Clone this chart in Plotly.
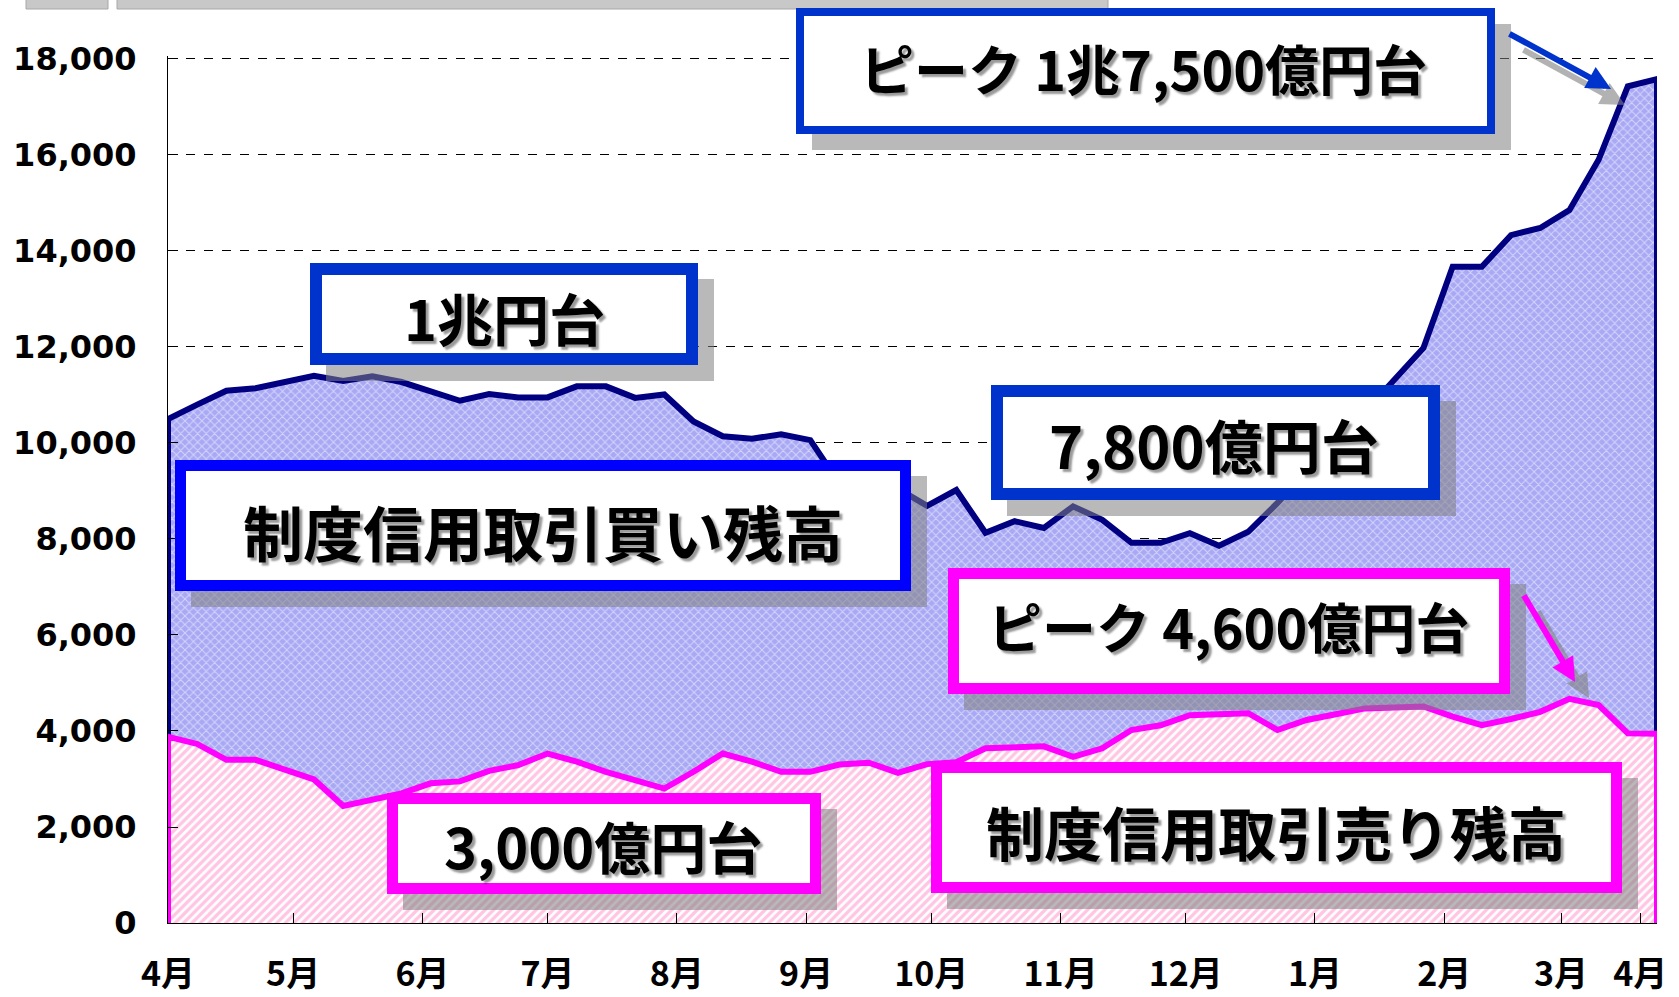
import pandas as pd
import plotly.graph_objects as go

# weekly balances, 100 million yen
buy = [10500, 10800, 11090, 11140, 11270, 11400, 11290, 11390, 11270, 11060,
       10880, 11020, 10950, 10950, 11180, 11180, 10940, 11010, 10450, 10140,
       10090, 10180, 10060, 9150, 9000, 9050, 8690, 9020, 8130, 8370,
       8230, 8680, 8400, 7920, 7920, 8120, 7860, 8150, 8750, 9400,
       10050, 10650, 11300, 11980, 13670, 13670, 14330, 14480, 14850, 15900,
       17430, 17580]
sell = [3880, 3730, 3400, 3400, 3200, 2990, 2440, 2570, 2700, 2910,
        2950, 3170, 3290, 3530, 3360, 3150, 2980, 2800, 3150, 3530,
        3360, 3150, 3150, 3300, 3340, 3130, 3310, 3350, 3640, 3660,
        3680, 3460, 3640, 4020, 4120, 4330, 4350, 4370, 4020, 4230,
        4350, 4470, 4490, 4510, 4300, 4120, 4250, 4400, 4670, 4540,
        3950, 3940]
weeks = pd.date_range("2005-04-01", periods=len(buy), freq="7D")

month_ticks = ["2005-04-01", "2005-05-01", "2005-06-01", "2005-07-01", "2005-08-01",
               "2005-09-01", "2005-10-01", "2005-11-01", "2005-12-01", "2006-01-01",
               "2006-02-01", "2006-03-01", "2006-03-20"]
month_labels = ["4月", "5月", "6月", "7月", "8月", "9月", "10月", "11月", "12月",
                "1月", "2月", "3月", "4月"]
y_ticks = list(range(0, 18001, 2000))

W, H = 1679, 997
# plot area in px; top sits a little above the 18,000 line so that grid line shows
L, R, T, B = 168, 1657, 56, 923
YMAX = 18062


def px(x):
    return (x - L) / (R - L)


def py(y):
    return (B - y) / (B - T)


xs = [weeks[0]] + list(weeks) + [weeks[-1]]
fig = go.Figure()
fig.add_trace(go.Scatter(
    x=xs, y=[0] + buy + [0], mode="lines", fill="toself",
    line=dict(color="#000080", width=6),
    fillcolor="#A8A8F5",
    fillpattern=dict(shape="x", fgcolor="white", bgcolor="#A8A8F5", size=6, solidity=0.3),
    hoverinfo="skip"))
fig.add_trace(go.Scatter(
    x=xs, y=[0] + sell + [0], mode="lines", fill="toself",
    line=dict(color="#FF00FF", width=6),
    fillcolor="#FFC0E0",
    fillpattern=dict(shape="/", fgcolor="#FF8CC8", bgcolor="white", size=6, solidity=0.55),
    hoverinfo="skip"))

# label boxes: text, outer box (x0, y0, x1, y1) in px, text centre, colour, border, size
boxes = [
    ("1兆円台", (310, 263, 698, 365), (504, 317), "#0033CC", 12, 56),
    ("ピーク 1兆7,500億円台", (796, 8, 1495, 134), (1143, 67), "#0033CC", 8, 54),
    ("7,800億円台", (991, 385, 1440, 500), (1214, 444), "#0033CC", 12, 58),
    ("制度信用取引買い残高", (175, 460, 911, 591), (543, 530), "#0000FF", 11, 60),
    ("ピーク 4,600億円台", (948, 568, 1510, 694), (1228, 625), "#FF00FF", 11, 54),
    ("3,000億円台", (387, 793, 821, 894), (603, 844), "#FF00FF", 11, 56),
    ("制度信用取引売り残高", (931, 762, 1622, 893), (1276, 831), "#FF00FF", 11, 58),
]

shapes = []
annotations = []
# cut-off grey boxes at the very top
for x0, x1 in [(26, 108), (117, 1108)]:
    shapes.append(dict(type="rect", xref="paper", yref="paper",
                       x0=px(x0), x1=px(x1), y0=py(9), y1=py(-2),
                       fillcolor="#C8C8C8", line=dict(color="#A8A8A8", width=1), layer="above"))
sh = 16
for text, (x0, y0, x1, y1), (tx, ty), col, bw, size in boxes:
    shapes.append(dict(type="rect", xref="paper", yref="paper",
                       x0=px(x0 + sh), x1=px(x1 + sh), y0=py(y1 + sh), y1=py(y0 + sh),
                       fillcolor="rgba(128,128,128,0.55)", line=dict(width=0), layer="above"))
for text, (x0, y0, x1, y1), (tx, ty), col, bw, size in boxes:
    shapes.append(dict(type="rect", xref="paper", yref="paper",
                       x0=px(x0 + bw / 2), x1=px(x1 - bw / 2),
                       y0=py(y1 - bw / 2), y1=py(y0 + bw / 2),
                       fillcolor="white", line=dict(color=col, width=bw), layer="above"))
    annotations.append(dict(
        text=text, xref="paper", yref="paper", x=px(tx), y=py(ty),
        xanchor="center", yanchor="middle", showarrow=False,
        font=dict(family="Noto Sans CJK JP", size=size, color="black", weight="bold",
                  shadow="3px 3px 2px rgba(0,0,0,0.4)")))

# arrows: tail, head, colour
arrows = [((1508, 33), (1611, 89), "#0033CC"),
          ((1523, 594), (1575, 682), "#FF00FF")]
for (tx, ty), (hx, hy), col in arrows:
    for dx, dy, c in [(14, 16, "rgba(128,128,128,0.6)"), (0, 0, col)]:
        annotations.append(dict(
            text="", xref="paper", yref="paper", x=px(hx + dx), y=py(hy + dy),
            ax=tx - hx, ay=ty - hy, showarrow=True, arrowhead=2, arrowsize=0.8,
            arrowwidth=6, arrowcolor=c, standoff=0))

fig.update_layout(
    width=W, height=H,
    margin=dict(l=L, r=W - R, t=T, b=H - B),
    paper_bgcolor="white", plot_bgcolor="white",
    showlegend=False,
    shapes=shapes, annotations=annotations,
    xaxis=dict(type="date", range=[weeks[0], weeks[-1]],
               tickvals=month_ticks, ticktext=month_labels,
               ticks="inside", ticklen=10, tickcolor="black",
               showline=True, linecolor="black", linewidth=1,
               showgrid=False, zeroline=False, ticklabelstandoff=21,
               automargin=False,
               tickfont=dict(family="Noto Sans CJK JP", size=34, color="black", weight="bold")),
    yaxis=dict(range=[0, YMAX], tickvals=y_ticks, tickformat=",d",
               ticks="inside", ticklen=10, tickcolor="black",
               showline=True, linecolor="black", linewidth=1,
               showgrid=True, gridcolor="black", gridwidth=1, griddash="dash",
               zeroline=False, ticklabelstandoff=24, automargin=False,
               tickfont=dict(family="DejaVu Sans", size=32, color="black", weight="bold")),
)

# drop the browser's default body margin so the figure fills the window
fig.write_html("out.html", config={"displayModeBar": False},
               post_script="document.body.style.margin = '0';")
